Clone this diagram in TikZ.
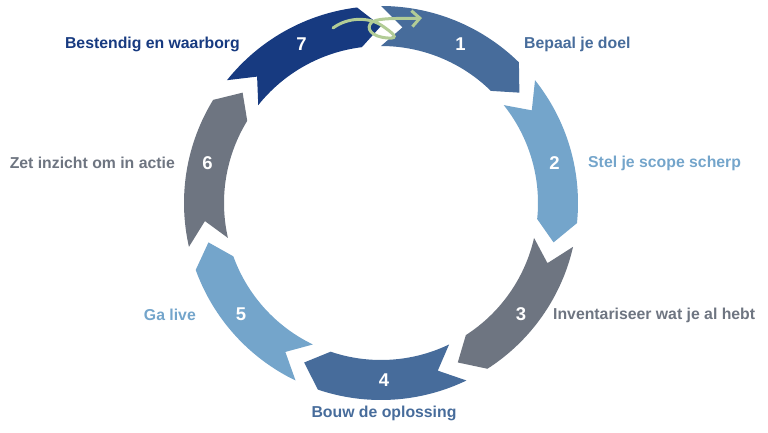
\documentclass[tikz,border=0pt]{standalone}
\usepackage{fontspec}
\setmainfont{Liberation Sans}
\usetikzlibrary{arrows.meta}

\definecolor{midblue}{HTML}{476C9B}
\definecolor{lightblue}{HTML}{74A5CB}
\definecolor{slate}{HTML}{6E7581}
\definecolor{navy}{HTML}{173A80}
\definecolor{sage}{HTML}{B2CC96}

\begin{document}
\begin{tikzpicture}[x=1bp, y=1bp,
    num/.style={text=white, inner sep=0pt, font=\fontsize{18.5bp}{20bp}\selectfont\bfseries},
    lbl/.style={inner sep=0pt, font=\fontsize{15.8bp}{18bp}\selectfont\bfseries},
    swirl/.style={sage, line width=3bp, line cap=round, -{Straight Barb[length=8bp,width=16bp]}}]

    \useasboundingbox (-381, -229) rectangle (387, 203);

    % 1: Bepaal je doel
    \fill[midblue] (90:197) arc[start angle=90, end angle=45.57, radius=197bp] -- (38.57:177) -- (45.57:157) arc[start angle=45.57, end angle=90, radius=157bp] -- (83:177) -- cycle;
    \node[num] (n1) at (63.5:178) {1};
    \node[lbl, text=midblue, anchor=west] (l1) at (143, 159) {Bepaal je doel};

    % 2: Stel je scope scherp
    \fill[lightblue] (38.57:197) arc[start angle=38.57, end angle=-5.86, radius=197bp] -- (-12.86:177) -- (-5.86:157) arc[start angle=-5.86, end angle=38.57, radius=157bp] -- (31.57:177) -- cycle;
    \node[num] (n2) at (12.86:178) {2};
    \node[lbl, text=lightblue, anchor=west] (l2) at (207, 40) {Stel je scope scherp};

    % 3: Inventariseer wat je al hebt
    \fill[slate] (-12.86:197) arc[start angle=-12.86, end angle=-57.29, radius=197bp] -- (-64.29:177) -- (-57.29:157) arc[start angle=-57.29, end angle=-12.86, radius=157bp] -- (-19.86:177) -- cycle;
    \node[num] (n3) at (-38.57:179) {3};
    \node[lbl, text=slate, anchor=west] (l3) at (172, -112) {Inventariseer wat je al hebt};

    % 4: Bouw de oplossing
    \fill[midblue] (-64.29:197) arc[start angle=-64.29, end angle=-108.71, radius=197bp] -- (-115.71:177) -- (-108.71:157) arc[start angle=-108.71, end angle=-64.29, radius=157bp] -- (-71.29:177) -- cycle;
    \node[num] (n4) at (-89:177) {4};
    \node[lbl, text=midblue] (l4) at (3, -210) {Bouw de oplossing};

    % 5: Ga live
    \fill[lightblue] (-115.71:197) arc[start angle=-115.71, end angle=-160.14, radius=197bp] -- (-167.14:177) -- (-160.14:157) arc[start angle=-160.14, end angle=-115.71, radius=157bp] -- (-122.71:177) -- cycle;
    \node[num] (n5) at (-141.43:179) {5};
    \node[lbl, text=lightblue, anchor=east] (l5) at (-185, -112) {Ga live};

    % 6: Zet inzicht om in actie
    \fill[slate] (-167.14:197) arc[start angle=-167.14, end angle=-211.57, radius=197bp] -- (-218.57:177) -- (-211.57:157) arc[start angle=-211.57, end angle=-167.14, radius=157bp] -- (-174.14:177) -- cycle;
    \node[num] (n6) at (-192.86:178) {6};
    \node[lbl, text=slate, anchor=east] (l6) at (-206, 40) {Zet inzicht om in actie};

    % 7: Bestendig en waarborg
    \fill[navy] (141.43:197) arc[start angle=141.43, end angle=97, radius=197bp] -- (90:177) -- (97:157) arc[start angle=97, end angle=141.43, radius=157bp] -- (134.43:177) -- cycle;
    \node[num] (n7) at (116.5:178) {7};
    \node[lbl, text=navy, anchor=east] (l7) at (-141, 159) {Bestendig en waarborg};

    % loop from 7 back to 1
    \draw[swirl] (-48, 175) .. controls (-33, 186) and (-13, 186) .. (0, 178)
        .. controls (12, 170) and (19, 164) .. (7, 165)
        .. controls (-10, 166) and (-16, 175) .. (-9, 181)
        .. controls (-1, 186) and (26, 184) .. (41, 185);

\end{tikzpicture}
\end{document}
